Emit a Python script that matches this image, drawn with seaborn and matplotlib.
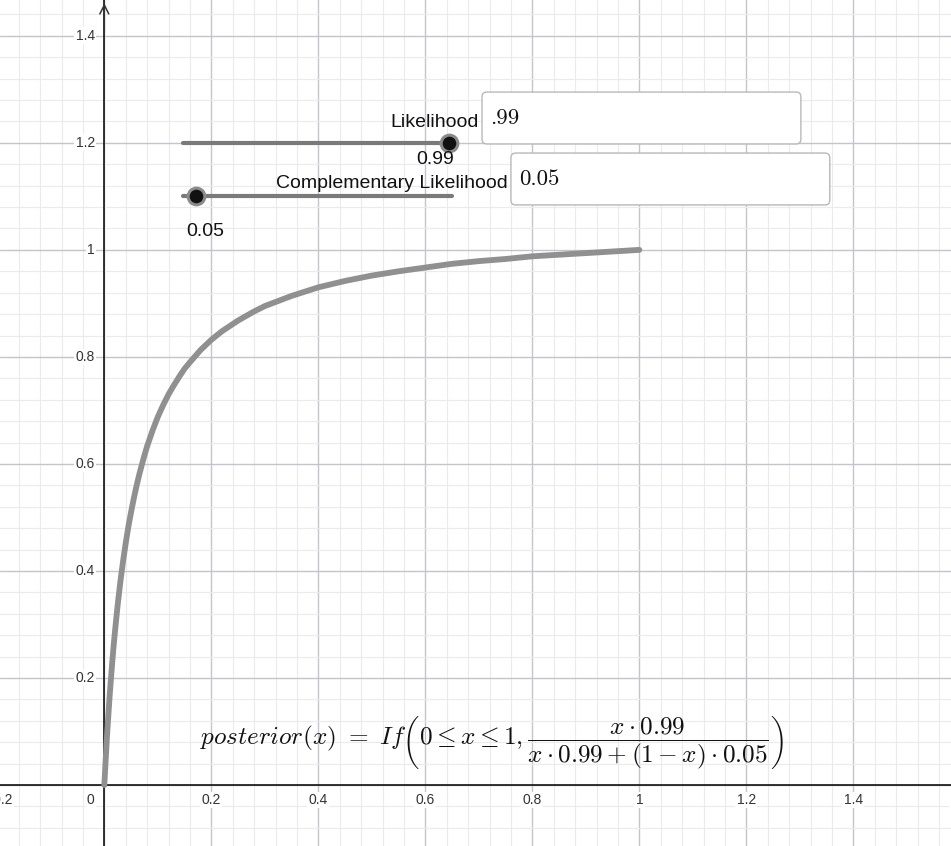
import numpy as np
import pandas as pd
import matplotlib
matplotlib.use("Agg")
import matplotlib.pyplot as plt
import seaborn as sns
from matplotlib.patches import FancyBboxPatch
from matplotlib.ticker import MultipleLocator

# ---- data ----
x_values = [0, 0.0025, 0.005, 0.0075, 0.01, 0.0125, 0.015, 0.0175, 0.02, 0.025,
            0.03, 0.035, 0.04, 0.045, 0.05, 0.055, 0.06, 0.065, 0.07, 0.075,
            0.08, 0.09, 0.1, 0.11, 0.12, 0.13, 0.14, 0.15, 0.16, 0.18, 0.2,
            0.22, 0.25, 0.28, 0.3, 0.35, 0.4, 0.45, 0.5, 0.55, 0.6, 0.65,
            0.7, 0.75, 0.8, 0.85, 0.9, 0.95, 1.0]
posterior_values = [0, 0.047, 0.091, 0.130, 0.167, 0.200, 0.232, 0.261, 0.288,
                    0.337, 0.380, 0.418, 0.452, 0.483, 0.510, 0.535, 0.558,
                    0.579, 0.598, 0.616, 0.633, 0.662, 0.688, 0.710, 0.730,
                    0.747, 0.763, 0.778, 0.790, 0.813, 0.832, 0.848, 0.868,
                    0.885, 0.895, 0.914, 0.930, 0.942, 0.952, 0.960, 0.967,
                    0.974, 0.979, 0.983, 0.988, 0.991, 0.994, 0.997, 1.0]
slider_names = ["Likelihood", "Complementary Likelihood"]
slider_values = [0.99, 0.05]
slider_value_labels = ["0.99", "0.05"]
input_texts = [".99", "0.05"]
x_tick_values = [-0.2, 0, 0.2, 0.4, 0.6, 0.8, 1.0, 1.2, 1.4, 1.6]
x_tick_labels = ["\u22120.2", "0", "0.2", "0.4", "0.6", "0.8", "1", "1.2", "1.4", "1.6"]
y_tick_values = [0.2, 0.4, 0.6, 0.8, 1.0, 1.2, 1.4]
y_tick_labels = ["0.2", "0.4", "0.6", "0.8", "1", "1.2", "1.4"]

sns.set_theme(style="white")
plt.rcParams["font.family"] = ["Liberation Sans", "DejaVu Sans"]
plt.rcParams["mathtext.fontset"] = "cm"

fig = plt.figure(figsize=(9.51, 8.46), dpi=100)
ax = fig.add_axes([0, 0, 1, 1])
ax.set_xlim(-0.195, 1.5826)
ax.set_ylim(-0.114, 1.467)

# grid
ax.xaxis.set_major_locator(MultipleLocator(0.2))
ax.yaxis.set_major_locator(MultipleLocator(0.2))
ax.xaxis.set_minor_locator(MultipleLocator(0.04))
ax.yaxis.set_minor_locator(MultipleLocator(0.04))
ax.tick_params(which="both", length=0, labelbottom=False, labelleft=False)
ax.grid(True, which="major", color="#c4c4cc", lw=1.0)
ax.grid(True, which="minor", color="#ebebef", lw=0.8)
ax.set_axisbelow(True)
for s in ax.spines.values():
    s.set_visible(False)

# axes
ax.axhline(0, color="black", lw=1.1, zorder=2)
ax.axvline(0, color="black", lw=1.1, zorder=2)
ax.annotate("", xy=(0, 1.466), xytext=(0, 1.40),
            arrowprops=dict(arrowstyle="->", color="#333333", lw=1.1, mutation_scale=16),
            zorder=2)

lab_kw = dict(fontsize=10, color="#333333", zorder=3,
              bbox=dict(fc="white", ec="none", pad=1.0))
for v, l in zip(x_tick_values, x_tick_labels):
    if v == 0:
        ax.text(-0.018, -0.028, l, ha="right", va="center", **lab_kw)
    elif v < 0:
        ax.text(v + 0.003, -0.028, l, ha="center", va="center", **lab_kw)
    else:
        ax.text(v, -0.028, l, ha="center", va="center", **lab_kw)
for v, l in zip(y_tick_values, y_tick_labels):
    ax.text(-0.0175, v, l, ha="right", va="center", **lab_kw)

# curve
df = pd.DataFrame({"x": x_values, "posterior": posterior_values})
sns.lineplot(data=df, x="x", y="posterior", ax=ax, color="#909090", lw=4.2,
             solid_capstyle="round", solid_joinstyle="round", zorder=4)
ax.set_xlabel("")
ax.set_ylabel("")

# sliders
slider_x0, slider_x1 = 0.147, 0.65
slider_y = [1.2, 1.1]
for val, y in zip(slider_values, slider_y):
    ax.plot([slider_x0, slider_x1], [y, y], color="#7a7a7a", lw=3,
            solid_capstyle="round", zorder=5)
    px = slider_x0 + val * (slider_x1 - slider_x0)
    ax.plot([px], [y], marker="o", ms=12, mfc="#111111", mec="#8a8a8a",
            mew=2.2, zorder=6)

ax.text(0.700, 1.238, slider_names[0], ha="right", va="center", fontsize=14, color="#111111", zorder=6)
ax.text(0.618, 1.168, slider_value_labels[0], ha="center", va="center", fontsize=14, color="#111111", zorder=6)
ax.text(0.755, 1.125, slider_names[1], ha="right", va="center", fontsize=14, color="#111111", zorder=6)
ax.text(0.189, 1.034, slider_value_labels[1], ha="center", va="center", fontsize=14, color="#111111", zorder=6)

# input boxes
boxes = [(0.706, 1.198, 1.302, 1.295), (0.760, 1.084, 1.356, 1.181)]
for (x0, y0, x1, y1), t in zip(boxes, input_texts):
    p = FancyBboxPatch((x0, y0), x1 - x0, y1 - y0,
                       boxstyle="round,pad=0,rounding_size=0.009",
                       fc="white", ec="#b8b8b8", lw=1.0, zorder=7)
    ax.add_patch(p)
    ax.text(x0 + 0.016, (y0 + y1) / 2, t, ha="left", va="center",
            fontsize=16.5, family="cmr10", color="#111111", zorder=8)

# formula
ax.text(0.179, 0.080,
        r"$posterior(x)\ =\ If\left(0 \leq x \leq 1, \dfrac{x \cdot 0.99}{x \cdot 0.99 + (1 - x) \cdot 0.05}\right)$",
        ha="left", va="center", fontsize=18.2, color="#111111", zorder=6)

fig.savefig("out.png", dpi=100)
